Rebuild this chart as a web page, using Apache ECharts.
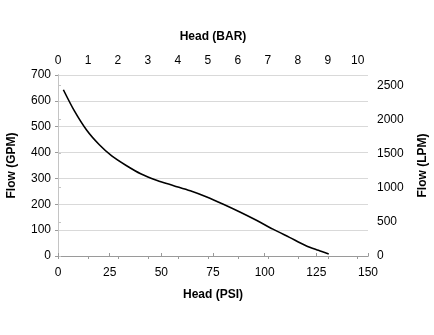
<!DOCTYPE html>
<html lang="en">
<head>
    <meta charset="UTF-8">
    <title>Pump Curve</title>
</head>
<body style="margin:0">
<div id="chart" style="width:434px;height:335px;"></div>
<script src="https://cdn.jsdelivr.net/npm/echarts@6/dist/echarts.min.js"></script>
<script type="text/javascript">
    // curve: head in PSI, flow in GPM
    const headPsi = [2.6, 8, 14, 20, 26, 33, 40, 48, 56, 64, 72, 80, 88, 96, 104, 112, 120, 126, 131];
    const flowGpm = [643, 560, 485, 430, 387, 350, 318, 292, 272, 252, 228, 200, 170, 138, 104, 72, 40, 22, 8];

    const PSI_PER_BAR = 14.5038;
    const LPM_PER_GPM = 3.785;
    const psiMax = 150;
    const gpmMax = 700;

    const chart = echarts.init(document.getElementById('chart'));

    const font = 'Liberation Sans, Arial, sans-serif';
    const axisGray = '#9a9a9a';
    const gridGray = '#d9d9d9';

    chart.setOption({
        animation: false,
        grid: {left: 58, right: 66, top: 75, bottom: 79, containLabel: false, outerBoundsMode: 'none'},
        xAxis: [
            {
                type: 'value', position: 'bottom',
                min: 0, max: psiMax, interval: 25,
                name: 'Head (PSI)', nameLocation: 'middle', nameGap: 33,
                nameTextStyle: {fontFamily: font, fontSize: 12, fontWeight: 'bold', color: '#000'},
                axisLine: {lineStyle: {color: axisGray}},
                axisTick: {inside: true, length: 3, lineStyle: {color: axisGray}},
                axisLabel: {margin: 11, fontFamily: font, fontSize: 12, color: '#000'},
                splitLine: {show: false}
            },
            {
                type: 'value', position: 'top',
                min: 0, max: psiMax / PSI_PER_BAR, interval: 1,
                name: 'Head (BAR)', nameLocation: 'middle', nameGap: 32,
                nameTextStyle: {fontFamily: font, fontSize: 12, fontWeight: 'bold', color: '#000'},
                axisLine: {lineStyle: {color: axisGray}},
                axisTick: {inside: true, length: 3, lineStyle: {color: axisGray}},
                axisLabel: {margin: 8, fontFamily: font, fontSize: 12, color: '#000',
                    showMaxLabel: false, formatter: v => String(Math.round(v))},
                splitLine: {show: false}
            }
        ],
        yAxis: [
            {
                type: 'value', position: 'left',
                min: 0, max: gpmMax, interval: 100,
                name: 'Flow (GPM)', nameLocation: 'middle', nameGap: 40,
                nameTextStyle: {fontFamily: font, fontSize: 12, fontWeight: 'bold', color: '#000'},
                axisLine: {show: true, lineStyle: {color: axisGray}},
                axisTick: {show: true, length: 3, lineStyle: {color: axisGray}},
                axisLabel: {margin: 7, fontFamily: font, fontSize: 12, color: '#000'},
                splitLine: {show: true, lineStyle: {color: gridGray}}
            },
            {
                type: 'value', position: 'right',
                min: 0, max: gpmMax * LPM_PER_GPM, interval: 500,
                name: 'Flow (LPM)', nameLocation: 'middle', nameGap: 49,
                nameTextStyle: {fontFamily: font, fontSize: 12, fontWeight: 'bold', color: '#000'},
                axisLine: {show: true, lineStyle: {color: '#c4c4c4'}},
                axisTick: {show: true, length: 3, lineStyle: {color: '#c4c4c4'}},
                axisLabel: {margin: 9, fontFamily: font, fontSize: 12, color: '#000',
                    showMaxLabel: false, formatter: v => String(v)},
                splitLine: {show: false}
            }
        ],
        series: [
            {
                type: 'line',
                xAxisIndex: 0,
                yAxisIndex: 0,
                smooth: 0.3,
                symbol: 'none',
                lineStyle: {color: '#000', width: 1.6},
                data: headPsi.map((h, i) => [h, flowGpm[i]])
            }
        ]
    });
</script>
</body>
</html>
